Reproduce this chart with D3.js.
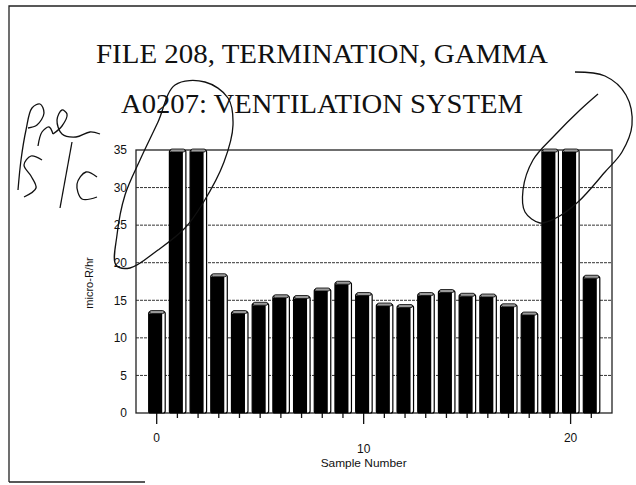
<!DOCTYPE html>
<html>
<head>
<meta charset="utf-8">
<script src="https://cdn.jsdelivr.net/npm/d3@7"></script>
<style>
  body { margin: 0; background: #fff; }
  svg { display: block; }
</style>
</head>
<body>
<svg id="chart" width="636" height="485"></svg>
<script>
// chart data
const titleLines = ['FILE 208, TERMINATION, GAMMA', 'A0207: VENTILATION SYSTEM'];
const samples = d3.range(0, 22);
const readings = [13.5, 35, 35, 18.4, 13.5, 14.6, 15.6, 15.5, 16.5, 17.4, 15.9,
                  14.5, 14.3, 15.9, 16.3, 15.8, 15.7, 14.4, 13.3, 35, 35, 18.2];
const yTicks = [0, 5, 10, 15, 20, 25, 30, 35];
const xMajor = [0, 10, 20];
const xLabel = 'Sample Number';
const yLabel = 'micro-R/hr';

const svg = d3.select('#chart');
const margin = { left: 136, right: 612, top: 150, bottom: 413 };

const x = d3.scaleLinear().domain([-1, 22]).range([margin.left, margin.right]);
const y = d3.scaleLinear().domain([0, 35]).range([margin.bottom, margin.top]);

// page frame from the scan
svg.append('path')
  .attr('d', 'M9,482 L9,6 L636,6 M9,482 L145,482')
  .attr('fill', 'none').attr('stroke', '#222').attr('stroke-width', 1.3);

// titles
svg.selectAll('text.title').data(titleLines).join('text')
  .attr('class', 'title')
  .attr('x', 322)
  .attr('y', (d, i) => i === 0 ? 63 : 113)
  .attr('text-anchor', 'middle')
  .attr('font-family', 'Liberation Serif, serif')
  .attr('font-size', 28)
  .attr('textLength', (d, i) => i === 0 ? 452 : 402)
  .attr('lengthAdjust', 'spacingAndGlyphs')
  .attr('fill', '#111')
  .text(d => d);

// grid
svg.append('g').selectAll('line').data(yTicks.filter(t => t > 0 && t < 35)).join('line')
  .attr('x1', margin.left).attr('x2', margin.right)
  .attr('y1', d => y(d)).attr('y2', d => y(d))
  .attr('stroke', '#333').attr('stroke-width', 1)
  .attr('stroke-dasharray', '3,1');

// frame of plot
svg.append('rect')
  .attr('x', margin.left).attr('y', margin.top)
  .attr('width', margin.right - margin.left).attr('height', margin.bottom - margin.top)
  .attr('fill', 'none').attr('stroke', '#222').attr('stroke-width', 1.3);

// y axis labels
const yAxis = d3.axisLeft(y).tickValues(yTicks).tickSize(0).tickPadding(9);
svg.append('g')
  .attr('transform', `translate(${margin.left},0)`)
  .call(yAxis)
  .call(g => g.select('.domain').remove())
  .call(g => g.selectAll('text')
    .attr('font-family', 'Liberation Sans, sans-serif')
    .attr('font-size', 12).attr('fill', '#111'));

// x ticks: one per sample, longer at the majors
svg.append('g').selectAll('line').data(samples).join('line')
  .attr('x1', d => x(d)).attr('x2', d => x(d))
  .attr('y1', margin.bottom)
  .attr('y2', d => xMajor.includes(d) ? margin.bottom + 11 : margin.bottom + 5)
  .attr('stroke', '#111').attr('stroke-width', 1.3);

svg.append('g').selectAll('text').data(xMajor).join('text')
  .attr('x', d => x(d))
  .attr('y', d => d === 10 ? 453 : 442)
  .attr('text-anchor', 'middle')
  .attr('font-family', 'Liberation Sans, sans-serif')
  .attr('font-size', 12).attr('fill', '#111')
  .text(d => d);

svg.append('text')
  .attr('x', x(10)).attr('y', 467)
  .attr('text-anchor', 'middle')
  .attr('font-family', 'Liberation Sans, sans-serif')
  .attr('font-size', 11).attr('fill', '#111')
  .attr('textLength', 86).attr('lengthAdjust', 'spacingAndGlyphs')
  .text(xLabel);

svg.append('text')
  .attr('transform', 'translate(93,283) rotate(-90)')
  .attr('text-anchor', 'middle')
  .attr('font-family', 'Liberation Sans, sans-serif')
  .attr('font-size', 11).attr('fill', '#111')
  .text(yLabel);

// bars: black face, white side strip, grey cap
const bars = svg.append('g').selectAll('g').data(samples).join('g');
bars.append('rect')
  .attr('x', d => x(d) - 8).attr('width', 16.5)
  .attr('y', d => y(readings[d]))
  .attr('height', d => y(0) - y(readings[d]))
  .attr('rx', 2)
  .attr('fill', '#fff').attr('stroke', '#000').attr('stroke-width', 1.2);
bars.append('rect')
  .attr('x', d => x(d) - 8).attr('width', 13.5)
  .attr('y', d => y(readings[d]) + 2)
  .attr('height', d => y(0) - y(readings[d]) - 2)
  .attr('fill', '#000');
bars.append('rect')
  .attr('x', d => x(d) - 7).attr('width', 14.5)
  .attr('y', d => y(readings[d]) - 1)
  .attr('height', 3).attr('rx', 1.5)
  .attr('fill', '#9a9a9a').attr('stroke', '#000').attr('stroke-width', 0.8);

// hand-drawn marks on the scan
const ink = svg.append('g').attr('fill', 'none').attr('stroke', '#111').attr('stroke-width', 1.3);
const loop = d3.line().curve(d3.curveCatmullRomClosed);
const pen = d3.line().curve(d3.curveCatmullRom);

ink.append('path').attr('d', loop([
  [175, 85], [205, 82], [228, 98], [233, 125], [224, 162], [203, 203], [185, 228],
  [158, 250], [130, 268], [116, 265], [117, 235], [125, 195], [140, 160], [158, 122]
]));
ink.append('path').attr('d', pen([
  [575, 72], [605, 76], [626, 95], [632, 125], [622, 152], [605, 172], [578, 202],
  [556, 218], [540, 223], [525, 212], [523, 190], [533, 160], [555, 135], [580, 110], [598, 94]
]));

const strokes = [
  [[18, 190], [21, 160], [26, 130], [32, 108], [40, 104], [44, 113], [37, 125], [28, 128]],
  [[38, 146], [42, 132], [49, 127], [53, 134]],
  [[53, 134], [62, 126], [67, 114], [62, 110], [57, 120], [62, 134], [76, 137], [90, 132], [100, 134]],
  [[42, 160], [31, 156], [24, 165], [31, 176], [36, 188], [24, 197]],
  [[60, 208], [72, 142]],
  [[97, 177], [86, 172], [77, 184], [82, 199], [97, 197]]
];
ink.selectAll('path.hand').data(strokes).join('path')
  .attr('class', 'hand').attr('d', pen);
</script>
</body>
</html>
